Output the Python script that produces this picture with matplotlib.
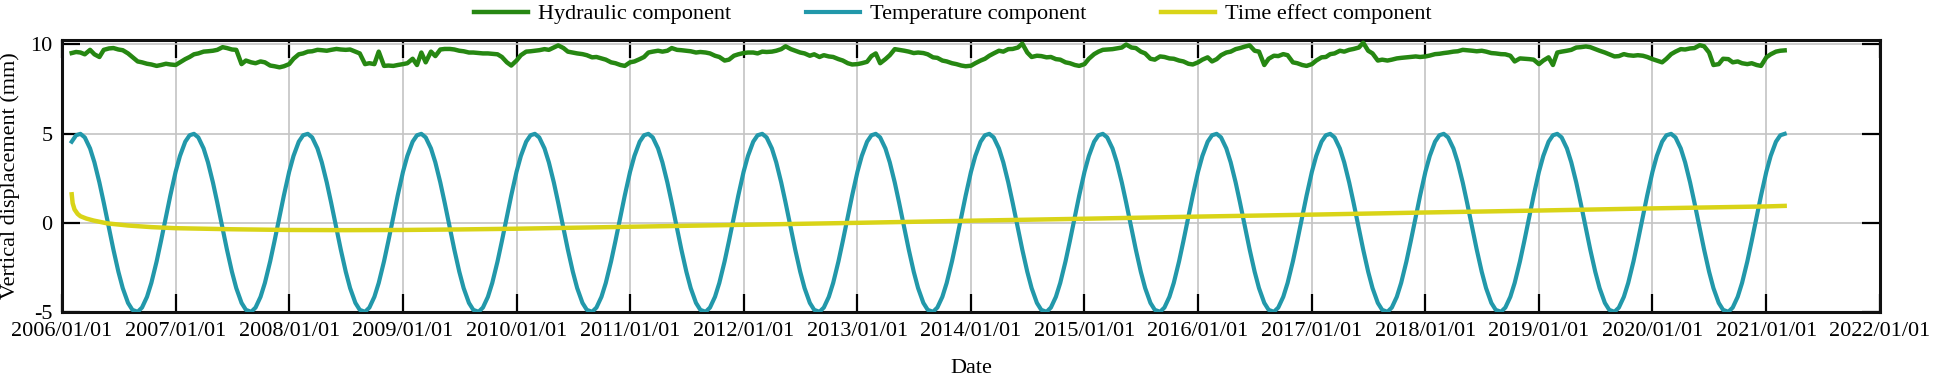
import numpy as np
import pandas as pd
import matplotlib
matplotlib.use("Agg")
import matplotlib.pyplot as plt
import matplotlib.dates as mdates

# semi-monthly samples (1st and 15th of each month), Feb 2006 -> Mar 2021
dates = pd.date_range("2006-02-01", "2021-03-01", freq="SMS")

# hydraulic component (mm), grouped by year
hydraulic = [
    # 2006 (from Feb)
    9.52, 9.58, 9.55, 9.45, 9.70, 9.45, 9.30, 9.70, 9.78, 9.80, 9.72, 9.68,
    9.50, 9.30, 9.05, 9.00, 8.92, 8.88, 8.80, 8.85, 8.92, 8.88,
    # 2007
    8.85, 9.00, 9.18, 9.30, 9.45, 9.50, 9.60, 9.62, 9.65, 9.70, 9.85, 9.80,
    9.72, 9.70, 8.90, 9.10, 9.00, 8.95, 9.05, 9.00, 8.82, 8.78, 8.72, 8.78,
    # 2008
    8.90, 9.20, 9.45, 9.50, 9.60, 9.62, 9.70, 9.68, 9.65, 9.70, 9.75, 9.72,
    9.70, 9.72, 9.60, 9.50, 8.90, 8.95, 8.90, 9.60, 8.80, 8.82, 8.80, 8.85,
    # 2009
    8.90, 8.95, 9.20, 8.85, 9.55, 9.00, 9.60, 9.35, 9.72, 9.75, 9.75, 9.72,
    9.65, 9.62, 9.55, 9.55, 9.52, 9.50, 9.50, 9.48, 9.45, 9.30, 9.00, 8.82,
    # 2010
    9.10, 9.40, 9.60, 9.62, 9.65, 9.68, 9.74, 9.70, 9.83, 9.95, 9.80, 9.60,
    9.55, 9.50, 9.46, 9.40, 9.28, 9.30, 9.22, 9.15, 9.00, 8.95, 8.85, 8.80,
    # 2011
    9.00, 9.05, 9.18, 9.30, 9.55, 9.60, 9.65, 9.60, 9.65, 9.80, 9.70, 9.68,
    9.65, 9.62, 9.55, 9.58, 9.55, 9.50, 9.37, 9.30, 9.10, 9.15, 9.37, 9.45,
    # 2012
    9.52, 9.55, 9.55, 9.50, 9.60, 9.58, 9.60, 9.65, 9.74, 9.90, 9.74, 9.65,
    9.55, 9.50, 9.37, 9.45, 9.30, 9.40, 9.33, 9.30, 9.18, 9.10, 8.95, 8.88,
    # 2013
    8.90, 8.95, 9.03, 9.35, 9.50, 8.95, 9.18, 9.40, 9.74, 9.70, 9.65, 9.60,
    9.52, 9.55, 9.52, 9.45, 9.28, 9.25, 9.10, 9.05, 8.95, 8.90, 8.82, 8.78,
    # 2014
    8.81, 8.95, 9.10, 9.20, 9.37, 9.50, 9.65, 9.60, 9.74, 9.75, 9.83, 10.05,
    9.55, 9.30, 9.37, 9.35, 9.28, 9.30, 9.18, 9.15, 9.00, 8.95, 8.85, 8.80,
    # 2015
    8.90, 9.20, 9.46, 9.60, 9.70, 9.72, 9.74, 9.78, 9.83, 10.00, 9.83, 9.80,
    9.60, 9.50, 9.20, 9.15, 9.33, 9.30, 9.22, 9.20, 9.10, 9.05, 8.92, 8.88,
    # 2016
    9.00, 9.15, 9.28, 9.05, 9.18, 9.40, 9.55, 9.60, 9.74, 9.80, 9.89, 9.95,
    9.65, 9.60, 8.85, 9.20, 9.37, 9.35, 9.46, 9.40, 9.00, 8.95, 8.85, 8.80,
    # 2017
    8.90, 9.10, 9.28, 9.30, 9.46, 9.50, 9.65, 9.60, 9.70, 9.75, 9.83, 10.10,
    9.65, 9.50, 9.10, 9.15, 9.10, 9.15, 9.22, 9.25, 9.28, 9.30, 9.33, 9.30,
    # 2018
    9.33, 9.38, 9.46, 9.48, 9.52, 9.55, 9.60, 9.62, 9.70, 9.68, 9.65, 9.62,
    9.65, 9.60, 9.52, 9.50, 9.46, 9.45, 9.37, 9.05, 9.22, 9.20, 9.18, 9.15,
    # 2019
    8.90, 9.10, 9.28, 8.85, 9.55, 9.60, 9.65, 9.70, 9.83, 9.85, 9.89, 9.85,
    9.74, 9.65, 9.55, 9.45, 9.33, 9.35, 9.46, 9.40, 9.37, 9.40, 9.37, 9.30,
    # 2020
    9.18, 9.10, 9.00, 9.20, 9.46, 9.60, 9.74, 9.72, 9.78, 9.80, 9.96, 9.90,
    9.55, 8.85, 8.90, 9.20, 9.18, 9.00, 9.05, 8.95, 8.90, 8.95, 8.85, 8.80,
    # 2021 (to Mar)
    9.28, 9.45, 9.60, 9.65, 9.67,
]

# temperature component (mm), same dates
temperature = [
    # 2006 (from Feb)
    4.55, 4.91, 4.99, 4.79, 4.17, 3.39, 2.26, 1.13, -0.31, -1.50, -2.74, -3.66,
    -4.49, -4.88, -4.99, -4.75, -4.15, -3.37, -2.16, -1.02, 0.35, 1.53,
    # 2007
    2.86, 3.75, 4.55, 4.91, 4.99, 4.79, 4.17, 3.39, 2.26, 1.13, -0.31, -1.50,
    -2.74, -3.66, -4.49, -4.88, -4.99, -4.75, -4.15, -3.37, -2.16, -1.02, 0.35, 1.53,
    # 2008
    2.86, 3.75, 4.55, 4.91, 4.99, 4.79, 4.17, 3.39, 2.26, 1.13, -0.31, -1.50,
    -2.74, -3.66, -4.49, -4.88, -4.99, -4.75, -4.15, -3.37, -2.16, -1.02, 0.35, 1.53,
    # 2009
    2.86, 3.75, 4.55, 4.91, 4.99, 4.79, 4.17, 3.39, 2.26, 1.13, -0.31, -1.50,
    -2.74, -3.66, -4.49, -4.88, -4.99, -4.75, -4.15, -3.37, -2.16, -1.02, 0.35, 1.53,
    # 2010
    2.86, 3.75, 4.55, 4.91, 4.99, 4.79, 4.17, 3.39, 2.26, 1.13, -0.31, -1.50,
    -2.74, -3.66, -4.49, -4.88, -4.99, -4.75, -4.15, -3.37, -2.16, -1.02, 0.35, 1.53,
    # 2011
    2.86, 3.75, 4.55, 4.91, 4.99, 4.79, 4.17, 3.39, 2.26, 1.13, -0.31, -1.50,
    -2.74, -3.66, -4.49, -4.88, -4.99, -4.75, -4.15, -3.37, -2.16, -1.02, 0.35, 1.53,
    # 2012
    2.86, 3.75, 4.55, 4.91, 4.99, 4.79, 4.17, 3.39, 2.26, 1.13, -0.31, -1.50,
    -2.74, -3.66, -4.49, -4.88, -4.99, -4.75, -4.15, -3.37, -2.16, -1.02, 0.35, 1.53,
    # 2013
    2.86, 3.75, 4.55, 4.91, 4.99, 4.79, 4.17, 3.39, 2.26, 1.13, -0.31, -1.50,
    -2.74, -3.66, -4.49, -4.88, -4.99, -4.75, -4.15, -3.37, -2.16, -1.02, 0.35, 1.53,
    # 2014
    2.86, 3.75, 4.55, 4.91, 4.99, 4.79, 4.17, 3.39, 2.26, 1.13, -0.31, -1.50,
    -2.74, -3.66, -4.49, -4.88, -4.99, -4.75, -4.15, -3.37, -2.16, -1.02, 0.35, 1.53,
    # 2015
    2.86, 3.75, 4.55, 4.91, 4.99, 4.79, 4.17, 3.39, 2.26, 1.13, -0.31, -1.50,
    -2.74, -3.66, -4.49, -4.88, -4.99, -4.75, -4.15, -3.37, -2.16, -1.02, 0.35, 1.53,
    # 2016
    2.86, 3.75, 4.55, 4.91, 4.99, 4.79, 4.17, 3.39, 2.26, 1.13, -0.31, -1.50,
    -2.74, -3.66, -4.49, -4.88, -4.99, -4.75, -4.15, -3.37, -2.16, -1.02, 0.35, 1.53,
    # 2017
    2.86, 3.75, 4.55, 4.91, 4.99, 4.79, 4.17, 3.39, 2.26, 1.13, -0.31, -1.50,
    -2.74, -3.66, -4.49, -4.88, -4.99, -4.75, -4.15, -3.37, -2.16, -1.02, 0.35, 1.53,
    # 2018
    2.86, 3.75, 4.55, 4.91, 4.99, 4.79, 4.17, 3.39, 2.26, 1.13, -0.31, -1.50,
    -2.74, -3.66, -4.49, -4.88, -4.99, -4.75, -4.15, -3.37, -2.16, -1.02, 0.35, 1.53,
    # 2019
    2.86, 3.75, 4.55, 4.91, 4.99, 4.79, 4.17, 3.39, 2.26, 1.13, -0.31, -1.50,
    -2.74, -3.66, -4.49, -4.88, -4.99, -4.75, -4.15, -3.37, -2.16, -1.02, 0.35, 1.53,
    # 2020
    2.86, 3.75, 4.55, 4.91, 4.99, 4.79, 4.17, 3.39, 2.26, 1.13, -0.31, -1.50,
    -2.74, -3.66, -4.49, -4.88, -4.99, -4.75, -4.15, -3.37, -2.16, -1.02, 0.35, 1.53,
    # 2021 (to Mar)
    2.86, 3.75, 4.55, 4.91, 4.99,
]

# time effect component (mm), its own (sparser) dates since it is smooth
time_dates = pd.to_datetime([
    "2006-02-01", "2006-02-04", "2006-02-10", "2006-02-20", "2006-03-01",
    "2006-03-20", "2006-04-12", "2006-05-26", "2006-08-01", "2006-10-15",
    "2007-01-01", "2007-07-01", "2008-01-01", "2008-07-01", "2009-01-01",
    "2009-07-01", "2010-01-01", "2011-01-01", "2012-01-01", "2013-01-01",
    "2014-01-01", "2015-01-01", "2016-01-01", "2017-01-01", "2018-01-01",
    "2019-01-01", "2020-01-01", "2021-01-01", "2021-03-01",
])
time_effect = [
    1.60, 1.10, 0.75, 0.50, 0.37,
    0.24, 0.13, -0.03, -0.15, -0.24,
    -0.30, -0.36, -0.40, -0.41, -0.40,
    -0.37, -0.33, -0.22, -0.11, 0.00,
    0.12, 0.23, 0.35, 0.46, 0.58,
    0.69, 0.81, 0.92, 0.95,
]

series_labels = ["Hydraulic component", "Temperature component", "Time effect component"]
series_colors = ["#268712", "#2298AA", "#D9D418"]

plt.rcParams["font.family"] = ["Liberation Serif", "DejaVu Serif"]
plt.rcParams["axes.unicode_minus"] = False

fig = plt.figure(figsize=(19.34, 3.85), dpi=100)
ax = fig.add_axes([0.0321, 0.1896, 0.9399, 0.7064])

ax.plot(dates, hydraulic, color=series_colors[0], lw=3.2, label=series_labels[0], zorder=3)
ax.plot(dates, temperature, color=series_colors[1], lw=3.0, label=series_labels[1], zorder=3)
ax.plot(time_dates, time_effect, color=series_colors[2], lw=3.2, label=series_labels[2], zorder=4)

ax.set_xlim(pd.Timestamp("2006-01-01"), pd.Timestamp("2022-01-01"))
ax.set_ylim(-5, 10.25)
ax.set_yticks([-5, 0, 5, 10])
ax.xaxis.set_major_locator(mdates.YearLocator(1))
ax.xaxis.set_major_formatter(mdates.DateFormatter("%Y/%m/%d"))

ax.grid(True, color="#c4c4c4", lw=1.2)
ax.set_axisbelow(True)
ax.tick_params(direction="in", length=13, width=1.6, top=True, right=True,
               labelsize=16, pad=7)
for s in ax.spines.values():
    s.set_linewidth(2.2)
    s.set_color("#111111")

ax.set_xlabel("Date", fontsize=16, labelpad=13)
ax.set_ylabel("Vertical displacement (mm)", fontsize=16, labelpad=7)

ax.legend(loc="lower center", bbox_to_anchor=(0.49, 1.0), ncol=3, frameon=False,
          fontsize=16, handlelength=2.4, handletextpad=0.45, columnspacing=3.4,
          borderaxespad=0.3)

fig.savefig("out.png", dpi=100)
